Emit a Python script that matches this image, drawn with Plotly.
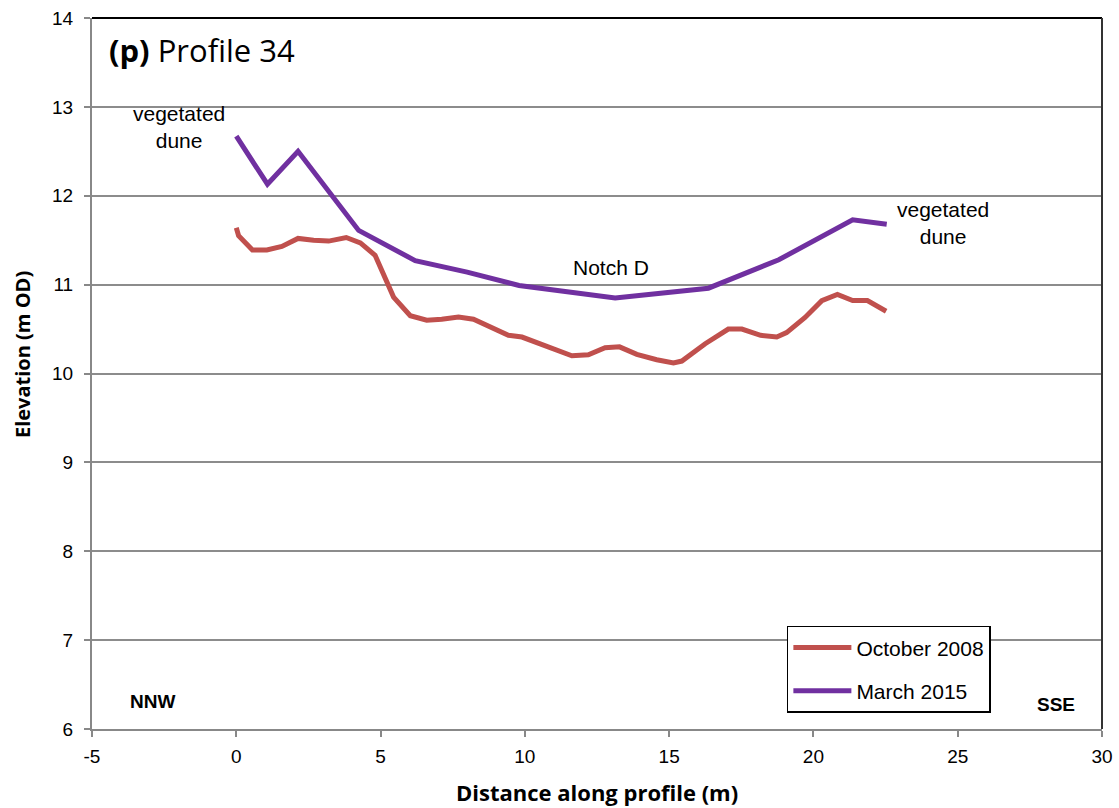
import plotly.graph_objects as go

# March 2015 profile
mar_x = [0.0, 1.08, 2.14, 3.2, 4.24, 6.2, 8.0, 9.8, 13.13, 16.36, 18.8, 21.36, 22.54]
mar_y = [12.67, 12.13, 12.50, 12.05, 11.61, 11.27, 11.14, 10.99, 10.85, 10.96, 11.28, 11.73, 11.68]

# October 2008 profile
oct_x = [0.0, 0.08, 0.56, 1.06, 1.58, 2.14, 2.68, 3.2, 3.81, 4.3, 4.81, 5.45, 6.03, 6.6,
         7.12, 7.7, 8.22, 8.8, 9.43, 9.9, 10.76, 11.63, 12.2, 12.78, 13.28, 13.88, 14.57,
         15.15, 15.44, 16.25, 17.05, 17.52, 18.17, 18.73, 19.07, 19.71, 20.29, 20.83,
         21.36, 21.87, 22.52]
oct_y = [11.64, 11.55, 11.39, 11.39, 11.43, 11.52, 11.50, 11.49, 11.53, 11.47, 11.33, 10.86,
         10.65, 10.60, 10.61, 10.635, 10.61, 10.52, 10.43, 10.41, 10.30, 10.20, 10.21, 10.29,
         10.30, 10.215, 10.155, 10.12, 10.14, 10.335, 10.50, 10.50, 10.43, 10.41, 10.46,
         10.63, 10.82, 10.89, 10.82, 10.82, 10.70]

x_ticks = [-5, 0, 5, 10, 15, 20, 25, 30]
x_tick_labels = ["-5", "0", "5", "10", "15", "20", "25", "30"]
y_ticks = [6, 7, 8, 9, 10, 11, 12, 13, 14]

fig = go.Figure()
fig.add_trace(go.Scatter(x=oct_x, y=oct_y, mode="lines", name="October 2008",
                         line=dict(color="#C0504D", width=5), legendgroup="a"))
fig.add_trace(go.Scatter(x=mar_x, y=mar_y, mode="lines", name="March 2015",
                         line=dict(color="#7030A0", width=5), legendgroup="b"))

tickfont = dict(family="Liberation Sans, Arial", size=19, color="black")

fig.update_layout(
    width=1119, height=808,
    margin=dict(l=92, r=17, t=18, b=79, autoexpand=False),
    paper_bgcolor="white", plot_bgcolor="white",
    showlegend=True,
    legend=dict(x=0.688, y=0.145, xanchor="left", yanchor="top",
                bordercolor="black", borderwidth=1.5, bgcolor="white",
                font=dict(family="Liberation Sans, Arial", size=21, color="black"),
                tracegroupgap=13, itemwidth=58),
    xaxis=dict(range=[-5, 30], tickvals=x_ticks, ticktext=x_tick_labels,
               ticks="outside", ticklen=6, automargin=False, ticklabelstandoff=3,
               tickcolor="#888888", tickwidth=2, showgrid=False, zeroline=False,
               showline=True, linecolor="#888888", linewidth=2, tickfont=tickfont),
    yaxis=dict(range=[6, 14], tickvals=y_ticks, ticks="outside", ticklen=6,
               automargin=False, ticklabelstandoff=7,
               tickcolor="#888888", tickwidth=2, showgrid=True, gridcolor="#8c8c8c",
               gridwidth=2, zeroline=False, showline=True, linecolor="#888888",
               linewidth=2, tickfont=tickfont),
)

# axis titles
fig.add_annotation(xref="paper", yref="paper", x=0.5, y=-0.0886, showarrow=False,
                   xanchor="center", yanchor="middle",
                   text="<b>Distance along profile (m)</b>",
                   font=dict(family="Open Sans", size=22, color="black"))
fig.add_annotation(xref="paper", yref="paper", x=-0.0693, y=0.526, showarrow=False,
                   xanchor="center", yanchor="middle",
                   text="<b>Elevation (m OD)</b>", textangle=-90,
                   font=dict(family="Open Sans", size=20, color="black"))

# top and right frame lines
fig.add_shape(type="line", xref="paper", yref="paper", x0=0, x1=1, y0=1, y1=1,
              line=dict(color="black", width=2))
fig.add_shape(type="line", xref="paper", yref="paper", x0=1, x1=1, y0=0, y1=1,
              line=dict(color="#333333", width=2))

ann_font = dict(family="Liberation Sans, Arial", size=21, color="black")
fig.add_annotation(x=-2.0, y=12.77, text="vegetated<br>dune", showarrow=False,
                   font=ann_font, align="center")
fig.add_annotation(x=24.5, y=11.69, text="vegetated<br>dune", showarrow=False,
                   font=ann_font, align="center")
fig.add_annotation(x=13.0, y=11.19, text="Notch D", showarrow=False, font=ann_font)
bold_font = dict(family="Liberation Sans, Arial", size=19, color="black")
fig.add_annotation(x=-2.9, y=6.31, text="<b>NNW</b>", showarrow=False, font=bold_font)
fig.add_annotation(x=28.4, y=6.28, text="<b>SSE</b>", showarrow=False, font=bold_font)
fig.add_annotation(xref="paper", yref="paper", x=0.015, y=0.955, xanchor="left",
                   yanchor="middle", text="<b>(p)</b> Profile 34", showarrow=False,
                   font=dict(family="Open Sans", size=31, color="black"))

fig.write_html("out.html", config={"displayModeBar": False},
               post_script="document.body.style.margin='0';document.body.style.overflow='hidden';")
